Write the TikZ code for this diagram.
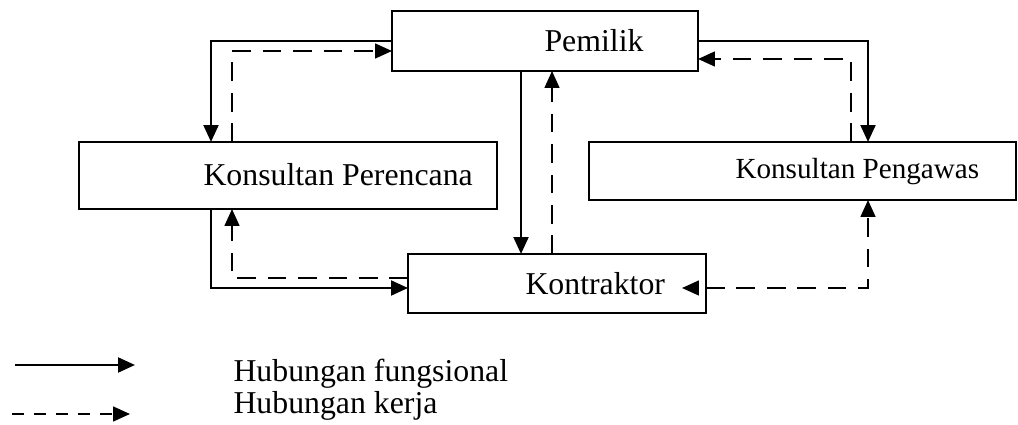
\documentclass[tikz,border=0pt]{standalone}
\usepackage{fontspec}
\setmainfont{Liberation Serif}
\usetikzlibrary{calc,arrows.meta}
\begin{document}
\begin{tikzpicture}[x=0.3774pt,y=-0.3774pt,
  box/.style={draw,line width=0.85pt,inner sep=0pt,outer sep=0pt},
  lbl/.style={anchor=base west,inner sep=0pt,font=\fontsize{12}{14}\selectfont},
  tip/.style={-{Triangle[length=6.4pt,width=5.6pt]}},
  func/.style={tip,line width=0.95pt},
  work/.style={tip,line width=0.75pt,dash pattern=on 7pt off 4.5pt},
  legwork/.style={tip,line width=0.75pt,dash pattern=on 4.5pt off 3.8pt},
  headonly/.style={tip,line width=0.75pt}]
\useasboundingbox (0,0) rectangle (1018,425);

% boxes
\node[box,minimum width=306*0.3774pt,minimum height=60*0.3774pt] (pem) at (545,41) {};
\node[box,minimum width=418*0.3774pt,minimum height=67*0.3774pt] (kp)  at (288,175.5) {};
\node[box,minimum width=427*0.3774pt,minimum height=58*0.3774pt] (kpg) at (802.5,171) {};
\node[box,minimum width=298*0.3774pt,minimum height=59*0.3774pt] (kon) at (557,283.5) {};

% box texts
\node[lbl] (tpem) at (544,52)  {Pemilik};
\node[lbl] (tkp)  at (203,186) {Konsultan Perencana};
\node[lbl,font=\fontsize{11}{13}\selectfont] (tkpg) at (735,179) {Konsultan Pengawas};
\node[lbl] (tkon) at (525,295) {Kontraktor};

% Pemilik <-> Konsultan Perencana
\draw[func] (pem.west) -| ($(kp.north west)+(132,0)$);
\draw[work] ($(kp.north west)+(153,0)$) |- ($(pem.west)+(0,10)$);

% Pemilik <-> Kontraktor
\draw[func] ($(pem.south west)+(129,0)$) coordinate (pa) -- (pa |- kon.north);
\draw[work] ($(kon.north west)+(144,0)$) coordinate (kb) -- (kb |- pem.south);

% Pemilik <-> Konsultan Pengawas
\draw[func] (pem.east) -| ($(kpg.north west)+(279,0)$);
\draw[work] ($(kpg.north west)+(262,0)$) |- ($(pem.east)+(0,18)$);

% Konsultan Perencana <-> Kontraktor
\draw[func] ($(kp.south west)+(132,0)$) |- ($(kon.west)+(0,4.5)$);
\draw[work] ($(kon.west)+(0,-5.5)$) -| ($(kp.south west)+(153,0)$);

% Kontraktor <-> Konsultan Pengawas
\draw[work] ($(kon.east)+(0,4.5)$) -| ($(kpg.south west)+(279,0)$);
\draw[headonly] ($(kon.east)+(-7,4.5)$) -- ($(kon.east)+(-24,4.5)$);

% legend
\coordinate (ls1) at (15,365);  \coordinate (le1) at (135,365);
\coordinate (ls2) at (12,414);  \coordinate (le2) at (130,414);
\draw[func] (ls1) -- (le1);
\draw[legwork] (ls2) -- (le2);
\node[lbl] (lg1) at (233,382) {Hubungan fungsional};
\node[lbl] (lg2) at (233,414) {Hubungan kerja};
\end{tikzpicture}
\end{document}
